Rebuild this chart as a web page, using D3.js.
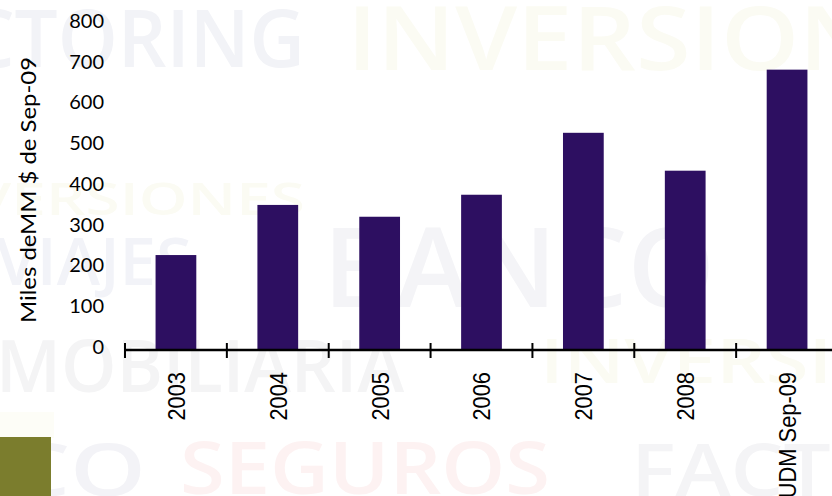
<!DOCTYPE html>
<html>
<head>
<meta charset="utf-8">
<script src="https://cdn.jsdelivr.net/npm/d3@7/dist/d3.min.js"></script>
<style>
html,body{margin:0;padding:0;background:#fff;}
svg{display:block;}
</style>
</head>
<body>
<svg id="chart" width="832" height="496"></svg>
<script>
const categories = ["2003","2004","2005","2006","2007","2008","UDM Sep-09"];
const values = [233, 356, 327, 381, 533, 440, 688];
const yTicks = [0,100,200,300,400,500,600,700,800];
const yTitle = "Miles deMM  $ de Sep-09";

// faint background watermark words
const watermarkWords = ["FACTORING","INVERSIONES","INVERSIONES","VIAJES","BANCO","MOBILIARIA","INVERSIONES","BANCO","SEGUROS","FACTORING"];

const svg = d3.select("#chart");
const W = 832, H = 496;

// watermark layer
const wm = [
  {x:305, y:67, fs:80, len:430, anchor:"end", c:"#f2f3f7"},
  {x:347, y:70, fs:88, len:640, anchor:"start", c:"#fbfbf3"},
  {x:305, y:215, fs:46, len:400, anchor:"end", c:"#fbfbf3"},
  {x:-4, y:285, fs:66, len:196, anchor:"start", c:"#f2f3f8"},
  {x:323, y:307, fs:110, len:392, anchor:"start", c:"#f4f4f7"},
  {x:-4, y:392, fs:72, len:408, anchor:"start", c:"#f4f4f5"},
  {x:540, y:383, fs:62, len:500, anchor:"start", c:"#fbfbf3"},
  {x:146, y:496, fs:72, len:340, anchor:"end", c:"#f3f3f7"},
  {x:180, y:494, fs:72, len:370, anchor:"start", c:"#fdf2f2"},
  {x:631, y:496, fs:72, len:470, anchor:"start", c:"#f4f4f6"}
];
svg.append("g").selectAll("text").data(wm).join("text")
  .attr("x", d => d.x).attr("y", d => d.y)
  .attr("text-anchor", d => d.anchor)
  .attr("font-family", "'Open Sans', sans-serif")
  .attr("font-weight", 600)
  .attr("font-size", d => d.fs)
  .attr("textLength", d => d.len)
  .attr("lengthAdjust", "spacingAndGlyphs")
  .attr("fill", d => d.c)
  .text((d,i) => watermarkWords[i]);

// green block with faint halo
svg.append("rect").attr("x",0).attr("y",412).attr("width",54).attr("height",26).attr("fill","#fdfdf7");
svg.append("rect").attr("x",0).attr("y",437).attr("width",51).attr("height",59).attr("fill","#7b7d2d");

// scales
const x = d3.scaleBand().domain(categories).range([125, 838]).paddingInner(0.6).paddingOuter(0.3);
const y = d3.scaleLinear().domain([0, 800]).range([350, 24]);
const step = x.step();

// bars
svg.append("g").selectAll("rect").data(categories).join("rect")
  .attr("x", d => x(d))
  .attr("width", x.bandwidth())
  .attr("y", (d,i) => y(values[i]))
  .attr("height", (d,i) => y(0) - y(values[i]))
  .attr("fill", "#2d0f61");

// y tick labels (no axis line)
const yAxis = d3.axisLeft(y).tickValues(yTicks).tickSize(0).tickPadding(0).tickFormat(d3.format("d"));
const gy = svg.append("g").attr("transform","translate(104,-3)").call(yAxis);
gy.select(".domain").remove();
gy.selectAll("text")
  .attr("font-family","Lato, 'Open Sans', sans-serif")
  .attr("font-size",20)
  .attr("fill","#000");

// x axis line
svg.append("line").attr("x1",124).attr("x2",W).attr("y1",y(0)).attr("y2",y(0))
  .attr("stroke","#000").attr("stroke-width",2.5);
// ticks at band boundaries
svg.append("g").selectAll("line").data(categories).join("line")
  .attr("x1", d => x(d) - step*0.3).attr("x2", d => x(d) - step*0.3)
  .attr("y1", y(0) - 7).attr("y2", y(0) + 8)
  .attr("stroke","#000").attr("stroke-width",2);

// x labels rotated
svg.append("g").selectAll("text").data(categories).join("text")
  .attr("transform", d => `translate(${x(d) + x.bandwidth()/2},372) rotate(-90) scale(1.04,1.18)`)
  .attr("text-anchor","end")
  .attr("dy","0.36em")
  .attr("font-family","'Liberation Sans', Arial, sans-serif")
  .attr("font-size",21)
  .attr("fill","#000")
  .text(d => d);

// y title
svg.append("text")
  .attr("transform","translate(28,190) rotate(-90)")
  .attr("text-anchor","middle")
  .attr("dy","0.36em")
  .attr("font-family","Lato, 'Open Sans', sans-serif")
  .attr("font-size",21)
  .attr("textLength",266)
  .attr("lengthAdjust","spacingAndGlyphs")
  .attr("fill","#000")
  .text(yTitle);
</script>
</body>
</html>
